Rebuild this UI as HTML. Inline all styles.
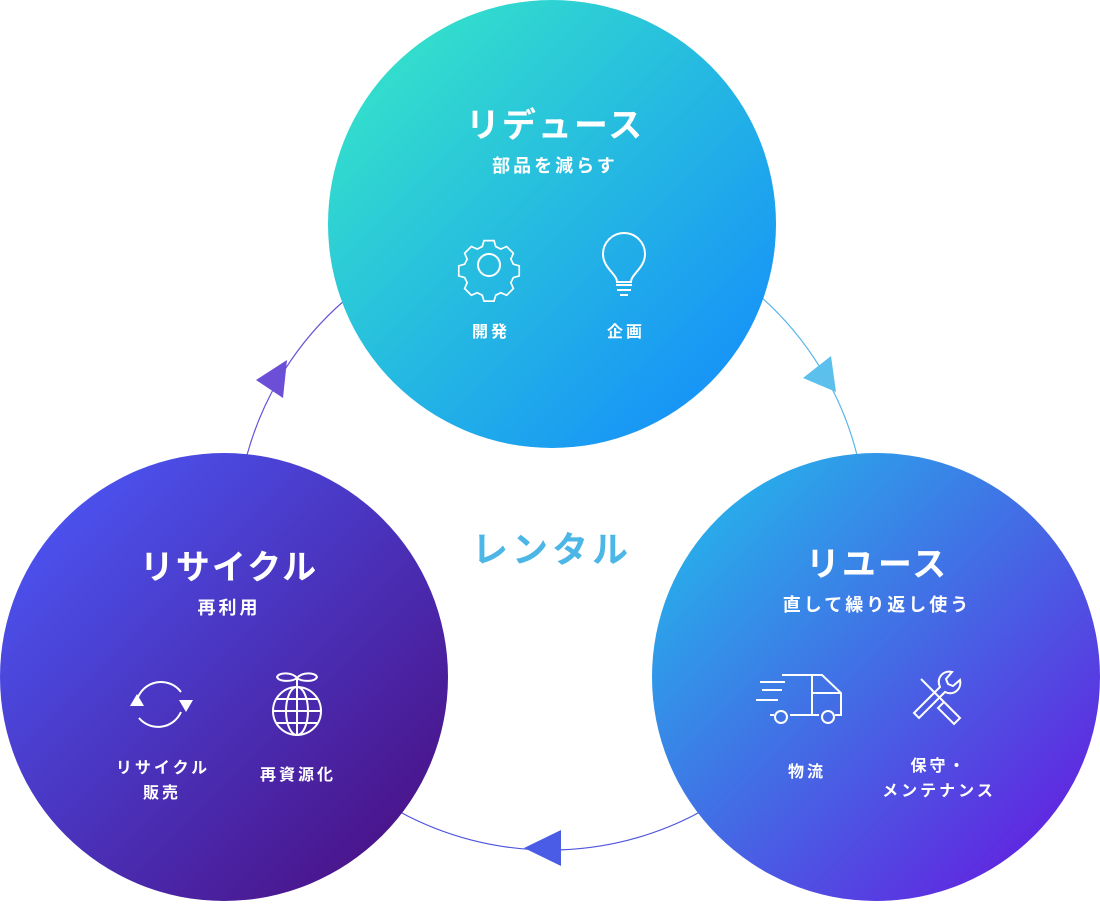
<!DOCTYPE html>
<html><head><meta charset="utf-8"><style>
body{margin:0;width:1100px;height:902px;background:#fff;overflow:hidden;font-family:"Liberation Sans","Noto Sans CJK JP",sans-serif}
</style></head><body>
<svg width="1100" height="902" viewBox="0 0 1100 902" xmlns="http://www.w3.org/2000/svg" font-family="'Liberation Sans','Noto Sans CJK JP',sans-serif">
<defs>
<linearGradient id="gt" x1="0" y1="0" x2="1" y2="1"><stop offset="0" stop-color="#38ecc4"/><stop offset="1" stop-color="#1286ff"/></linearGradient>
<linearGradient id="gl" x1="0" y1="0" x2="1" y2="1"><stop offset="0" stop-color="#4b5cff"/><stop offset="1" stop-color="#4a0a7a"/></linearGradient>
<linearGradient id="gr" x1="0" y1="0" x2="1" y2="1"><stop offset="0" stop-color="#1ec4ec"/><stop offset="1" stop-color="#6a10de"/></linearGradient>
</defs>
<path d="M247 455 A315 315 0 0 1 345 300" fill="none" stroke="#6a52d8" stroke-width="1.2"/>
<path d="M760 296 A315 315 0 0 1 857 455" fill="none" stroke="#5ab6ea" stroke-width="1.2"/>
<path d="M400 812 A315 315 0 0 0 700 812" fill="none" stroke="#4f56dc" stroke-width="1.2"/>
<polygon points="256,380 287,360 283,398" fill="#6b4fd6"/>
<polygon points="803,378 831,356 836,392" fill="#5cc0ec"/>
<polygon points="524,848 561,830 561,866" fill="#4a5ce6"/>
<circle cx="552" cy="224" r="224" fill="url(#gt)"/>
<circle cx="224" cy="677" r="224" fill="url(#gl)"/>
<circle cx="876" cy="677" r="224" fill="url(#gr)"/>
<g fill="#fff" font-weight="bold" text-anchor="middle">
<text x="555" y="137" font-size="34" letter-spacing="2">リデュース</text>
<text x="555" y="172" font-size="18" letter-spacing="3">部品を減らす</text>
<text x="491" y="337" font-size="16" letter-spacing="3">開発</text>
<text x="626" y="337" font-size="16" letter-spacing="3">企画</text>
<text x="229" y="579" font-size="34" letter-spacing="2">リサイクル</text>
<text x="229" y="614" font-size="18" letter-spacing="3">再利用</text>
<text x="163" y="773" font-size="16" letter-spacing="3">リサイクル</text>
<text x="162" y="798" font-size="16" letter-spacing="3">販売</text>
<text x="298" y="780" font-size="16" letter-spacing="3">再資源化</text>
<text x="877" y="576" font-size="34" letter-spacing="2">リユース</text>
<text x="877" y="611" font-size="18" letter-spacing="3">直して繰り返し使う</text>
<text x="807" y="777" font-size="16" letter-spacing="3">物流</text>
<text x="939" y="771" font-size="16" letter-spacing="3">保守・</text>
<text x="939" y="796" font-size="16" letter-spacing="3">メンテナンス</text>
</g>
<text x="552" y="562" font-size="36" font-weight="bold" fill="#4cb6e6" text-anchor="middle" letter-spacing="4">レンタル</text>
<g fill="none" stroke="#fff" stroke-width="2">
<circle cx="489" cy="265" r="11"/>
<g transform="translate(489 265) scale(0.84) translate(-489 -265)">
<path d="M483 236h12l2 7 6 3 7-3 8 8-3 7 3 6 7 2v12l-7 2-3 6 3 7-8 8-7-3-6 3-2 7h-12l-2-7-6-3-7 3-8-8 3-7-3-6-7-2v-12l7-2 3-6-3-7 8-8 7 3 6-3z"/>
</g>
<path d="M617 282c0-8-14-14-14-28a21 21 0 0 1 42 0c0 14-14 20-14 28z"/>
<path d="M616 285h16M617 290h14M620 295h8"/>
<path d="M137 700a25 25 0 0 1 44 -8M181 712a25 25 0 0 1 -42 6"/>
<circle cx="297" cy="711" r="24"/>
<ellipse cx="297" cy="711" rx="11" ry="24"/>
<path d="M273 711h48M297 687v48M277 699h40M277 723h40M297 687v-9"/>
<path d="M297 678c-5-6-18-6-20-1 2 5 15 5 20 1zM297 678c5-6 18-6 20-1-2 5-15 5-20 1z"/>
<path d="M812 675h-30M812 675v40M812 675h10l19 18v22h-6M812 693h29M770 715h4M790 715h29M800 675h-10M785 682h-25M782 690h-20M778 700h-22"/>
<circle cx="781" cy="717" r="6"/><circle cx="828" cy="717" r="6"/>
<path d="M914 713l26-26c-4-9 3-17 12-15l-6 7 2 5 5 2 7-6c2 9-6 16-15 12l-26 26z"/>
<path d="M921 679l4 4M924 682l20 20M944 702l16 16-6 6-16-16z"/>
</g>
<polygon points="130,706 137,694 144,706" fill="#fff"/>
<polygon points="179,700 193,700 186,712" fill="#fff"/>
</svg>
</body></html>
